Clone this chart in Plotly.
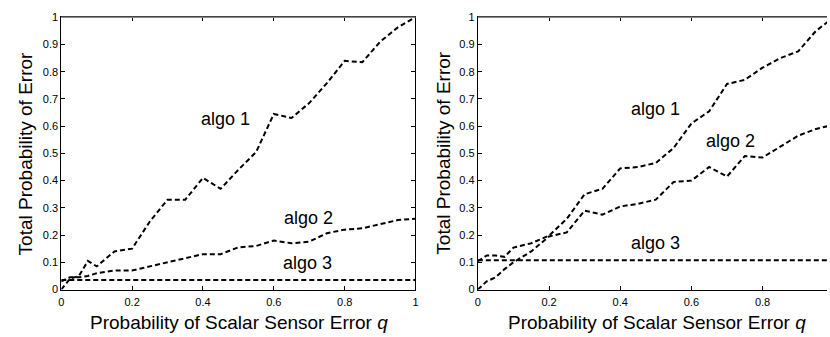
import plotly.graph_objects as go

# ---- data: left panel ----
q_left = [0, 0.025, 0.05, 0.075, 0.1, 0.15, 0.2, 0.25, 0.3, 0.35, 0.4, 0.45, 0.5,
          0.55, 0.6, 0.65, 0.7, 0.75, 0.8, 0.85, 0.9, 0.95, 1.0]
left_algo1 = [0.0, 0.04, 0.05, 0.105, 0.085, 0.14, 0.15, 0.25, 0.33, 0.33, 0.41, 0.37, 0.44,
              0.505, 0.645, 0.63, 0.685, 0.758, 0.84, 0.835, 0.91, 0.963, 1.0]
left_algo2 = [0.03, 0.045, 0.045, 0.05, 0.06, 0.07, 0.07, 0.085, 0.1, 0.115, 0.13, 0.13, 0.155,
              0.16, 0.18, 0.17, 0.176, 0.207, 0.22, 0.225, 0.24, 0.255, 0.26]
left_algo3 = [0.035] * len(q_left)

# ---- data: right panel ----
q_right = [0, 0.025, 0.05, 0.075, 0.1, 0.15, 0.2, 0.25, 0.3, 0.35, 0.4, 0.45, 0.5,
           0.55, 0.6, 0.65, 0.7, 0.75, 0.8, 0.85, 0.9, 0.95, 1.0]
right_algo1 = [0.104, 0.125, 0.125, 0.12, 0.154, 0.17, 0.198, 0.26, 0.35, 0.37, 0.445, 0.45, 0.465,
               0.52, 0.61, 0.655, 0.755, 0.77, 0.815, 0.85, 0.875, 0.95, 1.0]
right_algo2 = [0.0, 0.03, 0.045, 0.075, 0.1, 0.14, 0.195, 0.21, 0.29, 0.275, 0.305, 0.315, 0.33,
               0.395, 0.4, 0.45, 0.415, 0.49, 0.485, 0.525, 0.565, 0.59, 0.605]
right_algo3 = [0.108] * len(q_right)

x_ticks = [0, 0.2, 0.4, 0.6, 0.8, 1]
y_ticks = [0, 0.1, 0.2, 0.3, 0.4, 0.5, 0.6, 0.7, 0.8, 0.9, 1]
y_ticktext = ["0", "0.1", "0.2", "0.3", "0.4", "0.5", "0.6", "0.7", "0.8", "0.9", "1"]
x_ticktext = ["0", "0.2", "0.4", "0.6", "0.8", "1"]

labels = ["algo 1", "algo 2", "algo 3"]
left_label_pos = [(0.464, 0.626), (0.698, 0.264), (0.696, 0.097)]
right_label_pos = [(0.50, 0.663), (0.71, 0.545), (0.50, 0.171)]

FONT = "Liberation Sans, Arial, Helvetica, sans-serif"
line_style = dict(color="black", width=2, dash="5px,3px")

fig = go.Figure()
for ys in (left_algo1, left_algo2, left_algo3):
    fig.add_trace(go.Scatter(x=q_left, y=ys, mode="lines", line=line_style,
                             xaxis="x", yaxis="y", showlegend=False, hoverinfo="skip"))
for ys in (right_algo1, right_algo2, right_algo3):
    fig.add_trace(go.Scatter(x=q_right, y=ys, mode="lines", line=line_style,
                             xaxis="x2", yaxis="y2", showlegend=False, hoverinfo="skip"))

H, W = 337, 830
ydom = [(H - 294) / H, (H - 11.7) / H]
xdom1 = [58.7 / W, 415.5 / W]
xdom2 = [478.3 / W, 1.0]

tickfont = dict(family=FONT, size=11, color="black")
common_x = dict(tickmode="array", tickvals=x_ticks, ticktext=x_ticktext, ticks="inside",
                ticklen=4, tickcolor="black", showgrid=False, zeroline=False, showline=True,
                linecolor="black", linewidth=1, tickfont=tickfont, ticklabelstandoff=2)
common_y = dict(tickmode="array", tickvals=y_ticks, ticktext=y_ticktext, ticks="inside",
                ticklen=4, tickcolor="black", showgrid=False, zeroline=False, showline=True,
                linecolor="black", linewidth=1, tickfont=tickfont, range=[0, 1])

fig.update_layout(
    width=W, height=H, margin=dict(l=0, r=0, t=0, b=0),
    paper_bgcolor="white", plot_bgcolor="white",
    xaxis=dict(common_x, domain=xdom1, anchor="y", range=[0, 1], mirror="ticks"),
    yaxis=dict(common_y, domain=ydom, anchor="x", mirror="ticks"),
    xaxis2=dict(common_x, domain=xdom2, anchor="y2", range=[0, 0.981], mirror="ticks"),
    yaxis2=dict(common_y, domain=ydom, anchor="x2", mirror=False),
)

# top edges drawn lighter grey as in reference
for xd in (xdom1, xdom2):
    fig.add_shape(type="line", xref="paper", yref="paper", x0=xd[0], x1=xd[1],
                  y0=ydom[1], y1=ydom[1], line=dict(color="#888888", width=1.5))

ann_font = dict(family=FONT, size=18, color="black")
for txt, (x, y) in zip(labels, left_label_pos):
    fig.add_annotation(x=x, y=y, xref="x", yref="y", text=txt, showarrow=False, font=ann_font)
for txt, (x, y) in zip(labels, right_label_pos):
    fig.add_annotation(x=x, y=y, xref="x2", yref="y2", text=txt, showarrow=False, font=ann_font)

title_font = dict(family=FONT, size=19, color="black")
xtitle = "Probability of Scalar Sensor Error <i>q</i>"
ytitle = "Total Probability of Error"
fig.add_annotation(x=237.8 / W, y=(H - 328) / H, xref="paper", yref="paper", text=xtitle,
                   showarrow=False, font=title_font, xanchor="center", yanchor="middle")
fig.add_annotation(x=658.3 / W, y=(H - 328) / H, xref="paper", yref="paper", text=xtitle,
                   showarrow=False, font=title_font, xanchor="center", yanchor="middle")
fig.add_annotation(x=23 / W, y=(H - 153) / H, xref="paper", yref="paper", text=ytitle,
                   showarrow=False, font=title_font, textangle=-90, xanchor="center", yanchor="middle")
fig.add_annotation(x=443.3 / W, y=(H - 153) / H, xref="paper", yref="paper", text=ytitle,
                   showarrow=False, font=title_font, textangle=-90, xanchor="center", yanchor="middle")

fig.write_html("out.html")
